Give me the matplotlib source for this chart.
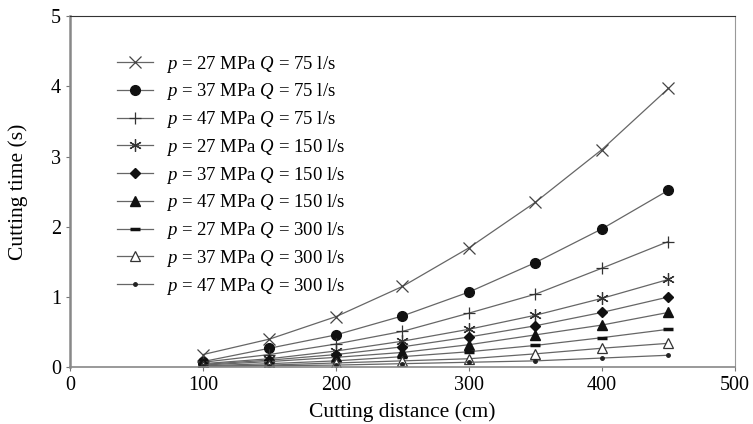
import matplotlib.pyplot as plt

plt.rcParams["font.family"] = "Liberation Serif"
plt.rcParams["mathtext.fontset"] = "custom"
plt.rcParams["mathtext.it"] = "Liberation Serif:italic"
plt.rcParams["mathtext.rm"] = "Liberation Serif"

distance = [100, 150, 200, 250, 300, 350, 400, 450]

p27_q75 = [0.18, 0.40, 0.72, 1.15, 1.70, 2.35, 3.10, 3.97]
p37_q75 = [0.08, 0.27, 0.46, 0.73, 1.07, 1.49, 1.97, 2.52]
p47_q75 = [0.07, 0.18, 0.33, 0.51, 0.77, 1.04, 1.41, 1.79]
p27_q150 = [0.05, 0.12, 0.23, 0.37, 0.54, 0.74, 0.98, 1.25]
p37_q150 = [0.04, 0.10, 0.18, 0.29, 0.43, 0.59, 0.78, 1.00]
p47_q150 = [0.03, 0.08, 0.14, 0.21, 0.32, 0.46, 0.60, 0.78]
p27_q300 = [0.02, 0.05, 0.09, 0.15, 0.22, 0.31, 0.42, 0.54]
p37_q300 = [0.01, 0.03, 0.06, 0.09, 0.12, 0.19, 0.27, 0.34]
p47_q300 = [0.01, 0.02, 0.03, 0.05, 0.07, 0.09, 0.13, 0.17]

series = [
  (p27_q75, "27", "75"),
  (p37_q75, "37", "75"),
  (p47_q75, "47", "75"),
  (p27_q150, "27", "150"),
  (p37_q150, "37", "150"),
  (p47_q150, "47", "150"),
  (p27_q300, "27", "300"),
  (p37_q300, "37", "300"),
  (p47_q300, "47", "300"),
]

styles = [
  dict(marker="x", ms=8, mfc="none", mec="#444444", mew=0.9),
  dict(marker="o", ms=7, mfc="#111111", mec="#111111"),
  dict(marker="+", ms=9, mec="#333333", mew=0.9),
  dict(marker=(6, 2, 0), ms=9, mec="#333333", mew=0.9),
  dict(marker="D", ms=5, mfc="#111111", mec="#111111"),
  dict(marker="^", ms=7, mfc="#111111", mec="#111111"),
  dict(marker="_", ms=7, mec="#111111", mew=2.5),
  dict(marker="^", ms=7, mfc="white", mec="#333333", mew=0.9),
  dict(marker="o", ms=2.5, mfc="#222222", mec="#222222"),
]

fig, ax = plt.subplots(figsize=(7.53, 4.24), dpi=100)
fig.subplots_adjust(left=0.093, right=0.976, top=0.962, bottom=0.134)

for (values, p, q), st in zip(series, styles):
  ax.plot(distance, values, color="#666666", lw=0.9,
          label=f"$p$ = {p} MPa $Q$ = {q} l/s", **st)

ax.set_xlim(0, 500)
ax.set_ylim(0, 5)
ax.set_xticks([0, 100, 200, 300, 400, 500])
ax.set_yticks([0, 1, 2, 3, 4, 5])
ax.tick_params(labelsize=14.5, direction="out", length=3, color="#777777")
ax.set_xlabel("Cutting distance (cm)", fontsize=15.5)
ax.set_ylabel("Cutting time (s)", fontsize=15.5)
ax.xaxis.set_label_coords(0.5, -0.10)
ax.yaxis.set_label_coords(-0.063, 0.5)

ax.spines["left"].set_color("#888888")
ax.spines["left"].set_linewidth(1.8)
ax.spines["bottom"].set_color("#888888")
ax.spines["bottom"].set_linewidth(1.2)
ax.spines["right"].set_color("#999999")
ax.spines["top"].set_color("#333333")

ax.legend(loc="upper left", bbox_to_anchor=(0.0707, 0.893), frameon=False,
          fontsize=13.5, handlelength=1.9, labelspacing=0.36, handletextpad=0.7,
          borderpad=0, borderaxespad=0)

fig.savefig("out.png")
